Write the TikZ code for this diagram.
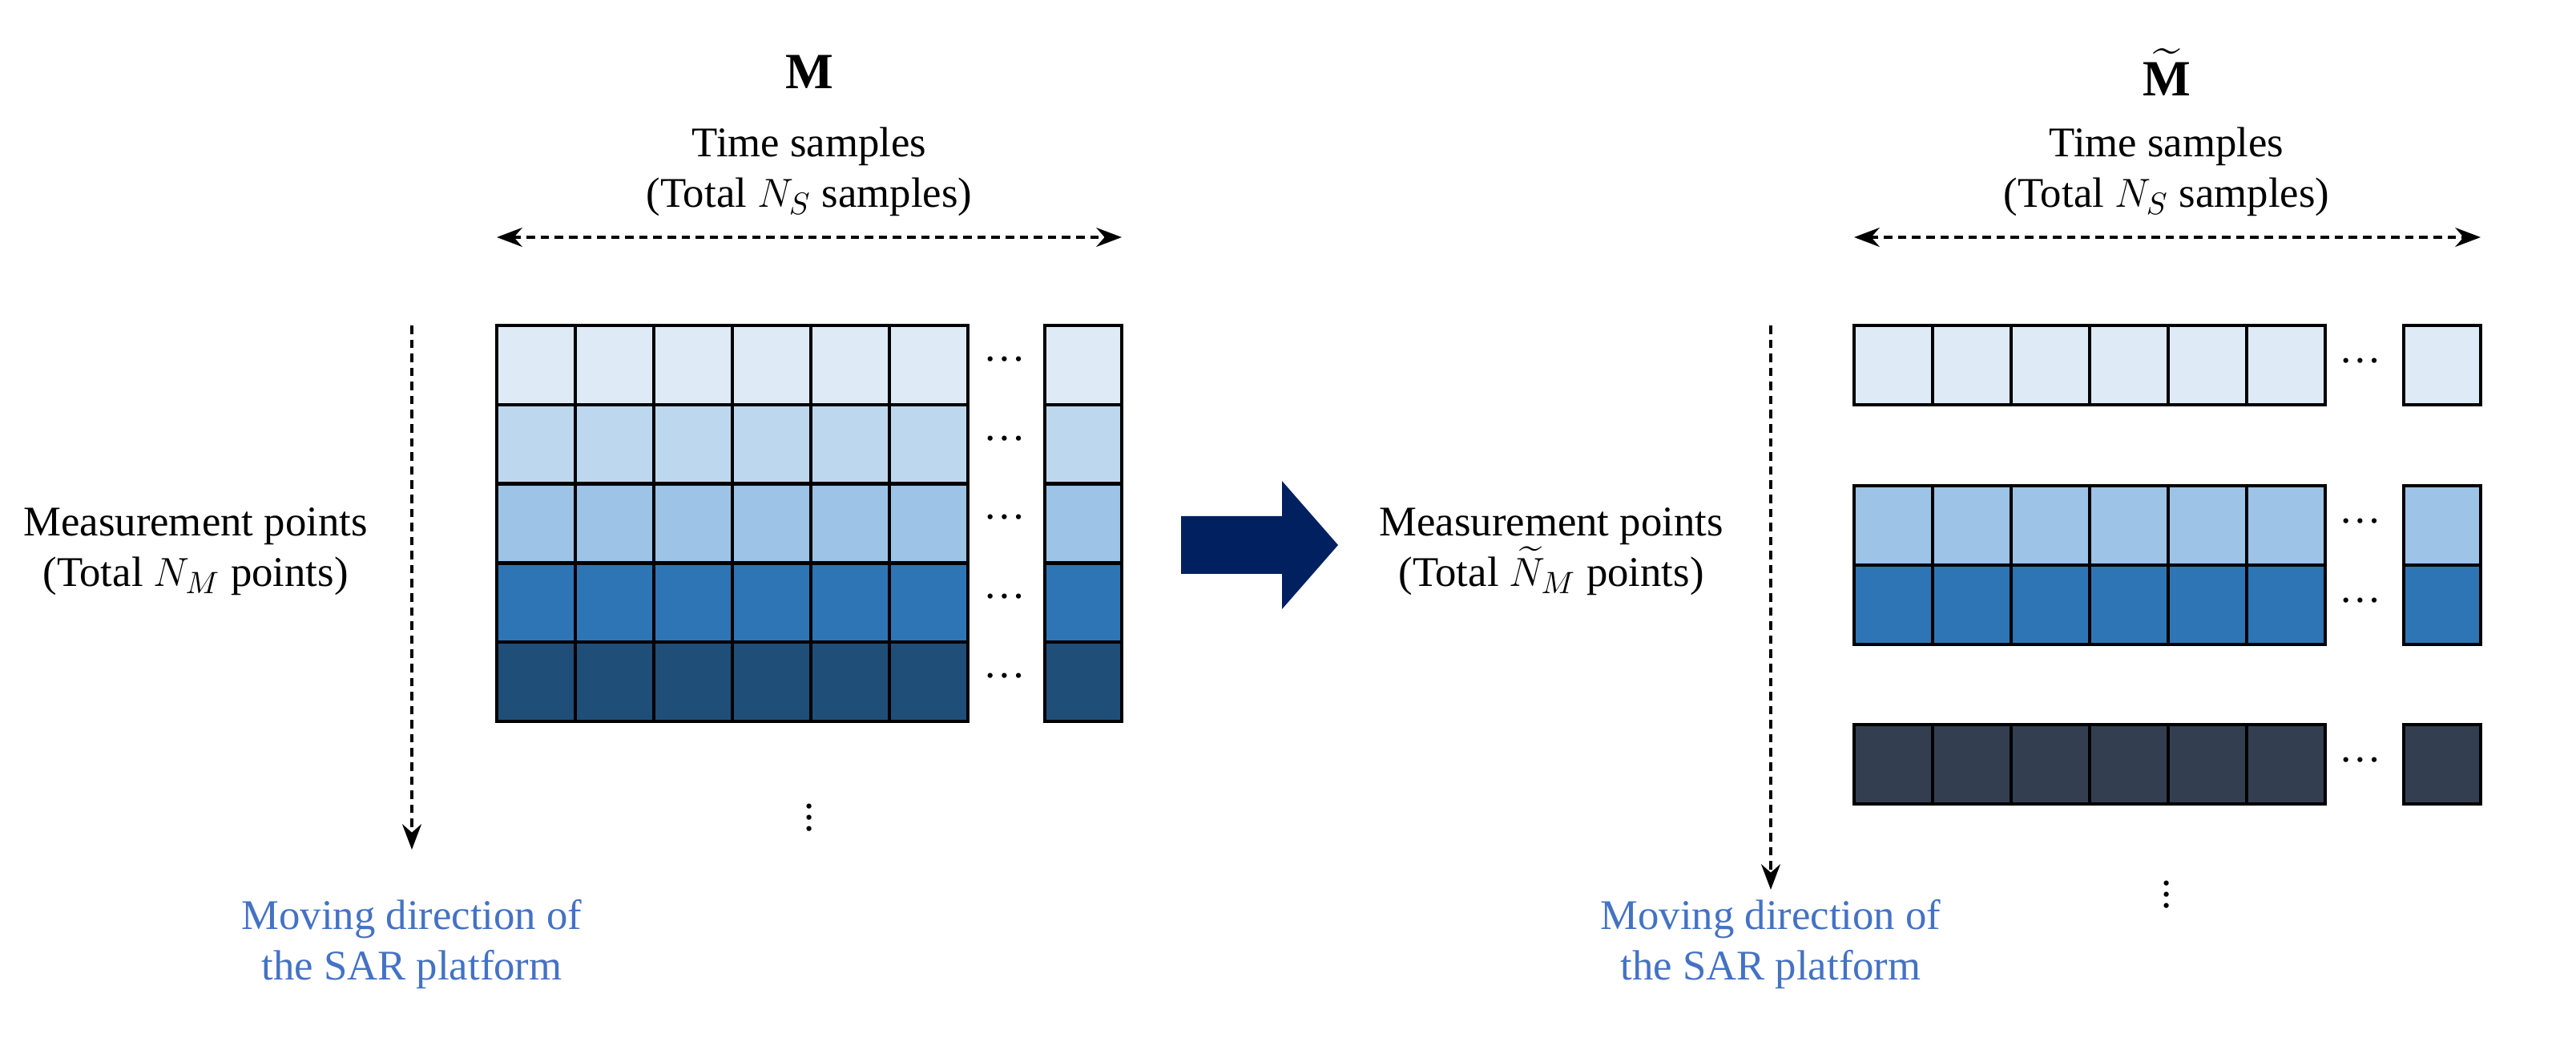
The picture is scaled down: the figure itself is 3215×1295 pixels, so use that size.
\documentclass[tikz,border=0pt]{standalone}
\usepackage{fontspec}
\usepackage{amsmath}
\setmainfont{Liberation Serif}
\usetikzlibrary{arrows.meta}
\definecolor{c1}{HTML}{DEEAF6}
\definecolor{c2}{HTML}{BDD7EE}
\definecolor{c3}{HTML}{9DC3E6}
\definecolor{c4}{HTML}{2E75B6}
\definecolor{c5}{HTML}{1F4E79}
\definecolor{c6}{HTML}{333F50}
\definecolor{navy}{HTML}{002060}
\definecolor{blu}{HTML}{4472C4}
\begin{document}
\begin{tikzpicture}[x=0.01cm,y=-0.01cm,
  cell/.style={draw=black,line width=1.2pt},
  lbl/.style={font=\fontsize{15}{18}\selectfont,align=center},
  dots/.style={font=\fontsize{15}{18}\selectfont,inner sep=0pt},
  vdash/.style={densely dashed,line width=1.2pt,-{Stealth[length=9pt]}},
  dd/.style={densely dashed,line width=1.2pt,{Stealth[length=9pt]}-{Stealth[length=9pt]}}]
\useasboundingbox (0,0) rectangle (3215,1295);
\begin{scope}[scale=2]
\foreach \r/\c in {0/c1,1/c2,2/c3,3/c4,4/c5}{
  \foreach \i in {0,...,5}{
    \fill[\c] (310+\i*49,203+\r*49.4) rectangle ++(49,49.4);
    \draw[cell] (310+\i*49,203+\r*49.4) rectangle ++(49,49.4);}
  \fill[\c] (652,203+\r*49.4) rectangle ++(48,49.4);
  \draw[cell] (652,203+\r*49.4) rectangle ++(48,49.4);
  \node[dots] (ld\r) at (627,224+\r*49.4) {…};
}
\foreach \y/\c/\k in {203/c1/a,303/c3/b,352.5/c4/c,452/c6/d}{
  \foreach \i in {0,...,5}{
    \fill[\c] (1157+\i*49,\y) rectangle ++(49,49.5);
    \draw[cell] (1157+\i*49,\y) rectangle ++(49,49.5);}
  \fill[\c] (1500,\y) rectangle ++(48,49.5);
  \draw[cell] (1500,\y) rectangle ++(48,49.5);
  \node[dots] (rd\k) at (1473,\y+22) {…};
}
\node[lbl] (M) at (505,45) {\fontsize{18}{20}\selectfont$\mathbf{M}$};
\node[lbl] (ts1) at (505,107) {Time samples\\(Total $N_S$ samples)};
\coordinate (h1a) at (310,148); \coordinate (h1b) at (700,148);
\draw[dd] (h1a) -- (h1b);
\node[lbl] (mp1) at (122,344) {Measurement points\\(Total $N_M$ points)};
\coordinate (v1a) at (257,203); \coordinate (v1b) at (257,530);
\draw[vdash] (v1a) -- (v1b);
\node[lbl,text=blu] (mv1) at (257,589) {Moving direction of\\the SAR platform};
\node[dots] (vd1) at (505,505) {$\vdots$};

\node[lbl] (M2) at (1352,45) {\fontsize{18}{20}\selectfont$\widetilde{\mathbf{M}}$};
\node[lbl] (ts2) at (1352,107) {Time samples\\(Total $N_S$ samples)};
\coordinate (h2a) at (1157,148); \coordinate (h2b) at (1548,148);
\draw[dd] (h2a) -- (h2b);
\node[lbl] (mp2) at (968,344) {Measurement points\\(Total $\widetilde{N}_M$ points)};
\coordinate (v2a) at (1105,203); \coordinate (v2b) at (1105,555);
\draw[vdash] (v2a) -- (v2b);
\node[lbl,text=blu] (mv2) at (1105,589) {Moving direction of\\the SAR platform};
\node[dots] (vd2) at (1352,553) {$\vdots$};

\fill[navy] (737,322) -- (800,322) -- (800,300) -- (835,340) -- (800,380) -- (800,358) -- (737,358) -- cycle;
\end{scope}
\end{tikzpicture}
\end{document}
